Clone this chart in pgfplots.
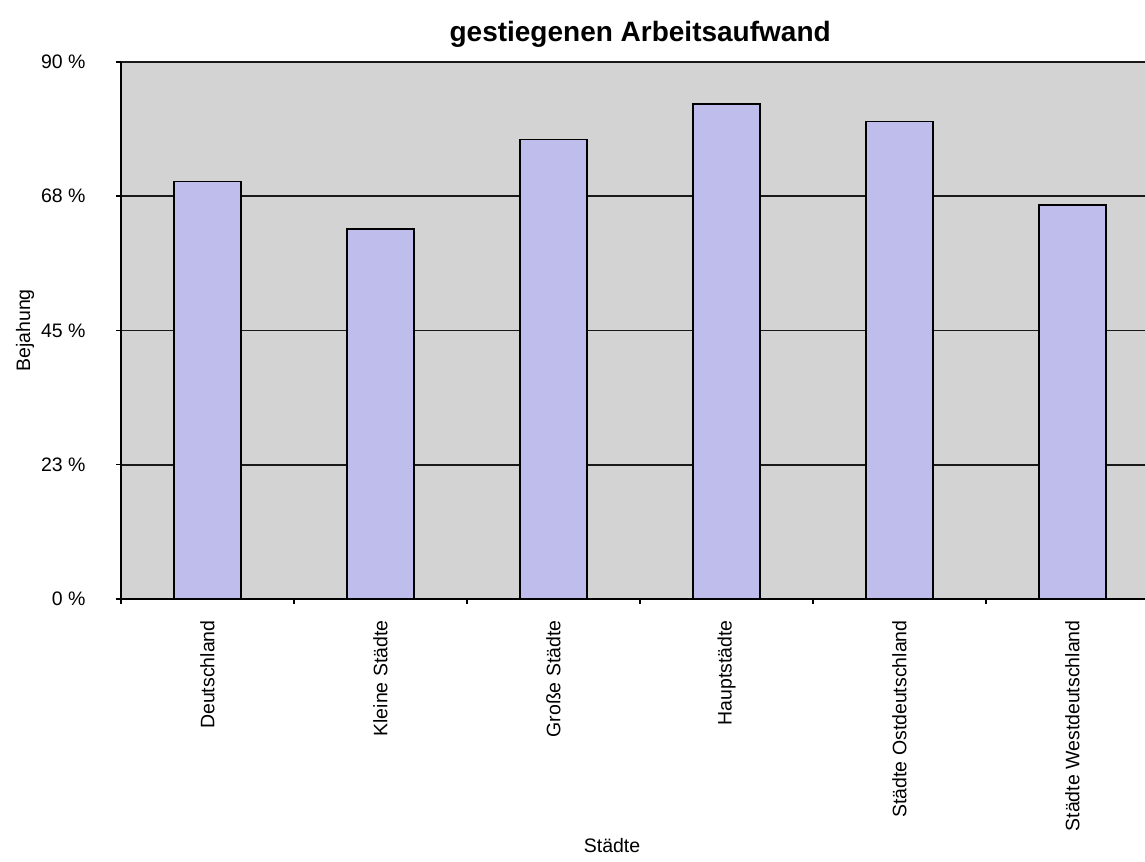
\documentclass[border=0pt]{standalone}
\usepackage{pgfplots}
\pgfplotsset{compat=1.18}
\usepackage{fontspec}
\setmainfont{Liberation Sans}
\definecolor{barfill}{RGB}{191,189,235}
\definecolor{bg}{RGB}{211,211,211}
\newcommand{\lblfont}{\fontsize{9.75}{11}\selectfont}
\begin{document}
\begin{tikzpicture}
\begin{axis}[name=ax, scale only axis, width=512pt, height=268.5pt,
  xmin=-0.5, xmax=5.419, ymin=0, ymax=90,
  axis background/.style={fill=bg},
  axis x line*=bottom, axis y line*=left,
  axis line style={black, line width=0.9pt},
  ytick={0,22.5,45,67.5,90},
  yticklabels={0 \%,23 \%,45 \%,68 \%,90 \%},
  ymajorgrids, major grid style={black!90, line width=0.85pt},
  xtick={0,1,2,3,4,5},
  xticklabels={Deutschland,Kleine Städte,Große Städte,Hauptstädte,Städte Ostdeutschland,Städte Westdeutschland},
  minor xtick={-0.5,0.5,1.5,2.5,3.5,4.5},
  tick align=outside,
  major x tick style={draw=none},
  major tick length=2.5pt, minor tick length=2.5pt,
  tick style={black, line width=0.75pt},
  tick label style={font=\lblfont},
  yticklabel style={inner sep=0pt, anchor=east, xshift=-15pt},
  xticklabel style={inner sep=0pt, yshift=-8pt, rotate=90, anchor=east},
  title={gestiegenen Arbeitsaufwand},
  title style={at={(axis description cs:0.507,1)}, anchor=base, yshift=4pt, font=\bfseries\fontsize{14}{16}\selectfont},
  xlabel={Städte}, ylabel={Bejahung},
  every axis x label/.style={at={(axis description cs:0.4795,0)}, anchor=base, yshift=-127pt, font=\lblfont},
  every axis y label/.style={at={(axis description cs:-0.09375,0.5)}, rotate=90, anchor=center, font=\lblfont},
]
\addplot[ybar, fill=barfill, draw=black, line width=0.75pt, bar width=0.387] coordinates {(0,70) (1,62) (2,77) (3,83) (4,80) (5,66)};
\end{axis}
\pgfresetboundingbox
\path[use as bounding box] ([shift={(-60.5pt,-131.5pt)}]ax.south west) rectangle ([shift={(0pt,31pt)}]ax.north east);
\end{tikzpicture}
\end{document}
